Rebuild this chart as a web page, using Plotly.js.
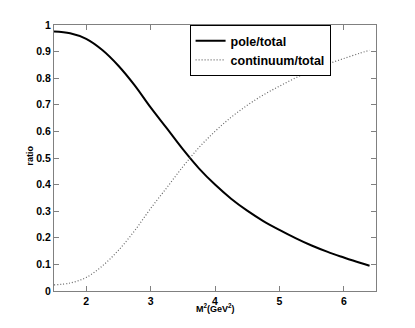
<!DOCTYPE html>
<html>
<head>
<meta charset="utf-8">
<script src="https://cdn.plot.ly/plotly-3.0.1.min.js"></script>
<style>html,body{margin:0;padding:0;background:#fff;}#chart{width:415px;height:328px;}</style>
</head>
<body>
<div id="chart"></div>
<script>
// M^2 (GeV^2) sample positions
var m2 = [1.5, 1.75, 2.0, 2.25, 2.5, 2.75, 3.0, 3.25, 3.5, 3.75, 4.0, 4.25, 4.5, 4.75, 5.0, 5.25, 5.5, 5.75, 6.0, 6.25, 6.4];
// pole/total ratio
var poleTotal = [0.976, 0.969, 0.948, 0.906, 0.847, 0.774, 0.690, 0.612, 0.533, 0.461, 0.400, 0.347, 0.302, 0.263, 0.230, 0.199, 0.171, 0.147, 0.126, 0.106, 0.095];
// continuum/total ratio
var contTotal = [0.023, 0.030, 0.051, 0.094, 0.153, 0.226, 0.310, 0.388, 0.467, 0.539, 0.600, 0.653, 0.698, 0.737, 0.770, 0.801, 0.829, 0.853, 0.874, 0.894, 0.905];
var seriesNames = ["pole/total", "continuum/total"];
var xTicks = [2, 3, 4, 5, 6];
var yTicks = [0, 0.1, 0.2, 0.3, 0.4, 0.5, 0.6, 0.7, 0.8, 0.9, 1];

var fam = "Liberation Sans, Arial, Helvetica, sans-serif";
var tickFont = {family: fam, size: 10.5, weight: "bold", color: "#000"};
var axisCommon = {
  showline: true, linecolor: "#808080", linewidth: 1, mirror: "ticks",
  ticks: "inside", ticklen: 5, tickcolor: "#808080", tickwidth: 1,
  showgrid: false, zeroline: false, tickfont: tickFont, fixedrange: true
};

var traces = [
  {x: m2, y: poleTotal, name: seriesNames[0], mode: "lines", type: "scatter",
   line: {color: "#000", width: 2, shape: "spline", smoothing: 1}},
  {x: m2, y: contTotal, name: seriesNames[1], mode: "lines", type: "scatter",
   line: {color: "#666", width: 1.2, dash: "1px,2px", shape: "spline", smoothing: 1}}
];

var layout = {
  width: 415, height: 328,
  margin: {l: 54, r: 39, t: 25, b: 37},
  paper_bgcolor: "#fff", plot_bgcolor: "#fff",
  xaxis: Object.assign({}, axisCommon, {range: [1.5, 6.5], tickvals: xTicks, ticktext: xTicks.map(String)}),
  yaxis: Object.assign({}, axisCommon, {range: [0, 1], tickvals: yTicks, ticktext: yTicks.map(String)}),
  showlegend: true,
  legend: {x: 0.64, xanchor: "center", y: 1, yanchor: "top",
           bgcolor: "#fff", bordercolor: "#000", borderwidth: 1,
           font: {family: fam, size: 12.5, weight: "bold", color: "#000"},
           tracegroupgap: 0},
  annotations: [
    {text: "M<sup>2</sup>(GeV<sup>2</sup>)", xref: "paper", yref: "paper", x: 0.5, y: -0.064,
     xanchor: "center", yanchor: "middle", showarrow: false,
     font: {family: fam, size: 9, weight: "bold", color: "#000"}},
    {text: "ratio", xref: "paper", yref: "paper", x: -0.074, y: 0.51, textangle: -90,
     xanchor: "center", yanchor: "middle", showarrow: false,
     font: {family: fam, size: 9, weight: "bold", color: "#000"}}
  ]
};

Plotly.newPlot("chart", traces, layout, {displayModeBar: false, staticPlot: true});
</script>
</body>
</html>
